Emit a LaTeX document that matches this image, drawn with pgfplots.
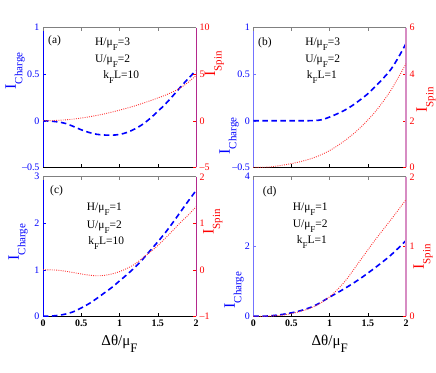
\documentclass[border=0pt]{standalone}
\usepackage{fontspec}
\setmainfont{Liberation Serif}
\usepackage{pgfplots}
\pgfplotsset{compat=1.18}

% lowered subscripts, MATLAB style
\newcommand{\lo}[1]{\raisebox{-5bp}{\fontsize{9}{9}\selectfont #1}}
\newcommand{\Ilab}[1]{{\fontsize{16}{16}\selectfont I}\raisebox{-6.5bp}{\fontsize{11}{11}\selectfont #1}}
\newcommand{\xlab}{{\fontsize{15}{15}\selectfont Δθ/μ\raisebox{-7bp}{\fontsize{13}{13}\selectfont F}}}
\newcommand{\ann}{\fontsize{11.5}{11.5}\selectfont}
\definecolor{mag}{RGB}{180,40,140}
\definecolor{pinkax}{RGB}{215,140,195}

\pgfplotsset{
  base/.style={scale only axis, width=153bp, height=139.6bp, anchor=south west,
    xmin=0, xmax=2, xtick={0,0.5,1,1.5,2}, tick align=inside, major tick length=3bp,
    /pgf/number format/assume math mode=true,
    ticklabel style={font=\fontsize{10}{10}\selectfont},
    ylabel style={anchor=center, inner sep=0pt}},
  lefty/.style={base, axis x line*=bottom, axis y line*=left,
    x axis line style={-, black, line width=0.6bp},
    y axis line style={-, #1, line width=0.6bp},
    xtick style={black, line width=0.5bp}, ytick style={#1, line width=0.5bp},
    yticklabel style={blue}},
  righty/.style={base, axis x line*=top, axis y line*=right, xticklabels={},
    x axis line style={-, gray, line width=0.6bp},
    y axis line style={-, #1},
    xtick style={gray, line width=0.5bp}, ytick style={red, line width=0.5bp},
    yticklabel style={red}},
  bottomx/.style={xticklabels={0,0.5,1,1.5,2},
    xticklabel style={font=\bfseries\fontsize{10}{10}\selectfont},
    xlabel={\xlab}, xlabel style={at={(axis description cs:0.5,-0.13)}, anchor=north, inner sep=0pt}},
  topx/.style={xticklabels={}},
  charge/.style={blue, line width=1.6bp, dash pattern=on 5.5bp off 3.5bp, smooth},
  spin/.style={red!80, line width=0.9bp, dash pattern=on 0.9bp off 1.3bp, smooth},
}

\begin{document}
\begin{tikzpicture}
\path[use as bounding box] (0,0) rectangle (436bp,-373bp);

% ---------------- (a)
\begin{axis}[lefty=blue, topx, at={(43bp,-167.3bp)},
  ymin=-0.5, ymax=1, ytick={-0.5,0,0.5,1}, yticklabels={\textendash0.5,0,0.5,1},
  ylabel={\Ilab{Charge}}, ylabel style={blue, at={(axis description cs:-0.183,0.69)}}]
\addplot[charge] coordinates {(0,0) (0.1,-0.004) (0.2,-0.013) (0.3,-0.03) (0.4,-0.062)
  (0.5,-0.097) (0.6,-0.125) (0.7,-0.145) (0.8,-0.153) (0.9,-0.155) (1.0,-0.147)
  (1.1,-0.125) (1.2,-0.088) (1.3,-0.04) (1.4,0.025) (1.5,0.10) (1.6,0.18) (1.7,0.27)
  (1.8,0.365) (1.9,0.455) (2.0,0.54)};
\node[anchor=base west, inner sep=0, font=\ann] at (axis description cs:0.033,0.89) {(a)};
\node[anchor=base west, inner sep=0, font=\ann] at (axis description cs:0.34,0.869) {H/μ\lo{F}=3};
\node[anchor=base west, inner sep=0, font=\ann] at (axis description cs:0.34,0.752) {U/μ\lo{F}=2};
\node[anchor=base west, inner sep=0, font=\ann] at (axis description cs:0.394,0.633) {k\lo{F}L=10};
\end{axis}
\begin{axis}[righty=mag, at={(43bp,-167.3bp)},
  ymin=-5, ymax=10, ytick={-5,0,5,10}, yticklabels={\textendash5,0,5,10},
  ylabel={\Ilab{Spin}}, ylabel style={red, at={(axis description cs:1.12,0.74)}}]
\addplot[spin] coordinates {(0,0) (0.2,0.05) (0.4,0.18) (0.6,0.42) (0.8,0.74) (1.0,1.14)
  (1.2,1.6) (1.4,2.15) (1.5,2.45) (1.6,2.75) (1.7,3.12) (1.8,3.55) (1.9,4.15) (2.0,4.85)};
\end{axis}

% ---------------- (b)
\begin{axis}[lefty={blue!55}, topx, at={(253.3bp,-167.3bp)}, width=152.7bp,
  ymin=-0.5, ymax=1, ytick={-0.5,0,0.5,1}, yticklabels={\textendash0.5,0,0.5,1},
  ylabel={\Ilab{Charge}}, ylabel style={blue, at={(axis description cs:-0.159,0.224)}}]
\addplot[charge] coordinates {(0,0) (0.2,0) (0.4,0) (0.6,0) (0.8,0.002) (0.9,0.012)
  (1.0,0.04) (1.1,0.075) (1.2,0.115) (1.3,0.165) (1.4,0.225) (1.5,0.29) (1.6,0.37)
  (1.7,0.455) (1.8,0.55) (1.9,0.68) (2.0,0.83)};
\node[anchor=base west, inner sep=0, font=\ann] at (axis description cs:0.031,0.876) {(b)};
\node[anchor=base west, inner sep=0, font=\ann] at (axis description cs:0.339,0.869) {H/μ\lo{F}=3};
\node[anchor=base west, inner sep=0, font=\ann] at (axis description cs:0.339,0.752) {U/μ\lo{F}=2};
\node[anchor=base west, inner sep=0, font=\ann] at (axis description cs:0.35,0.633) {k\lo{F}L=1};
\end{axis}
\begin{axis}[righty={pinkax, line width=2.2bp}, at={(253.3bp,-167.3bp)}, width=152.7bp,
  ymin=0, ymax=6, ytick={0,2,4,6},
  ylabel={\Ilab{Spin}}, ylabel style={red, at={(axis description cs:1.131,0.482)}}]
\addplot[spin] coordinates {(0,0) (0.2,0.01) (0.4,0.1) (0.6,0.23) (0.8,0.42) (1.0,0.72)
  (1.2,1.15) (1.4,1.7) (1.6,2.4) (1.8,3.3) (2.0,4.45)};
\end{axis}

% ---------------- (c)
\begin{axis}[lefty=blue, bottomx, at={(43bp,-316.3bp)},
  ymin=0, ymax=3, ytick={0,1,2,3},
  ylabel={\Ilab{Charge}}, ylabel style={blue, at={(axis description cs:-0.163,0.532)}}]
\addplot[charge] coordinates {(0,0) (0.1,0.005) (0.2,0.02) (0.3,0.05) (0.4,0.1) (0.5,0.18)
  (0.6,0.27) (0.7,0.38) (0.8,0.5) (0.9,0.62) (1.0,0.76) (1.1,0.9) (1.2,1.05) (1.3,1.22)
  (1.4,1.41) (1.5,1.6) (1.6,1.8) (1.7,2.02) (1.8,2.25) (1.9,2.48) (2.0,2.7)};
\node[anchor=base west, inner sep=0, font=\ann] at (axis description cs:0.046,0.883) {(c)};
\node[anchor=base west, inner sep=0, font=\ann] at (axis description cs:0.286,0.756) {H/μ\lo{F}=1};
\node[anchor=base west, inner sep=0, font=\ann] at (axis description cs:0.286,0.630) {U/μ\lo{F}=2};
\node[anchor=base west, inner sep=0, font=\ann] at (axis description cs:0.296,0.511) {k\lo{F}L=10};
\end{axis}
\begin{axis}[righty=mag, at={(43bp,-316.3bp)},
  ymin=-1, ymax=2, ytick={-1,0,1,2}, yticklabels={\textendash1,0,1,2},
  ylabel={\Ilab{Spin}}, ylabel style={red, at={(axis description cs:1.11,0.675)}}]
\addplot[spin] coordinates {(0,0) (0.2,-0.01) (0.4,-0.06) (0.5,-0.09) (0.6,-0.115)
  (0.7,-0.13) (0.8,-0.12) (0.9,-0.09) (1.0,-0.04) (1.1,0.03) (1.2,0.12) (1.3,0.25)
  (1.4,0.38) (1.5,0.52) (1.6,0.68) (1.7,0.85) (1.8,1.02) (1.9,1.18) (2.0,1.35)};
\end{axis}

% ---------------- (d)
\begin{axis}[lefty={blue!55}, bottomx, at={(253.3bp,-316.3bp)}, width=152.7bp,
  ymin=0, ymax=4, ytick={0,2,4},
  ylabel={\Ilab{Charge}}, ylabel style={blue, at={(axis description cs:-0.126,0.188)}}]
\addplot[charge] coordinates {(0,0) (0.2,0.01) (0.4,0.06) (0.6,0.15) (0.8,0.3) (1.0,0.55)
  (1.2,0.8) (1.4,1.08) (1.6,1.4) (1.8,1.75) (2.0,2.17)};
\node[anchor=base west, inner sep=0, font=\ann] at (axis description cs:0.062,0.869) {(d)};
\node[anchor=base west, inner sep=0, font=\ann] at (axis description cs:0.258,0.761) {H/μ\lo{F}=1};
\node[anchor=base west, inner sep=0, font=\ann] at (axis description cs:0.258,0.634) {U/μ\lo{F}=2};
\node[anchor=base west, inner sep=0, font=\ann] at (axis description cs:0.284,0.523) {k\lo{F}L=1};
\end{axis}
\begin{axis}[righty={pinkax, line width=2.2bp}, at={(253.3bp,-316.3bp)}, width=152.7bp,
  ymin=0, ymax=2, ytick={0,1,2},
  ylabel={\Ilab{Spin}}, ylabel style={red, at={(axis description cs:1.111,0.425)}}]
\addplot[spin] coordinates {(0,0) (0.2,0.003) (0.4,0.02) (0.6,0.065) (0.8,0.14) (1.0,0.28)
  (1.2,0.5) (1.4,0.8) (1.6,1.1) (1.8,1.38) (2.0,1.67)};
\end{axis}
\end{tikzpicture}
\end{document}
